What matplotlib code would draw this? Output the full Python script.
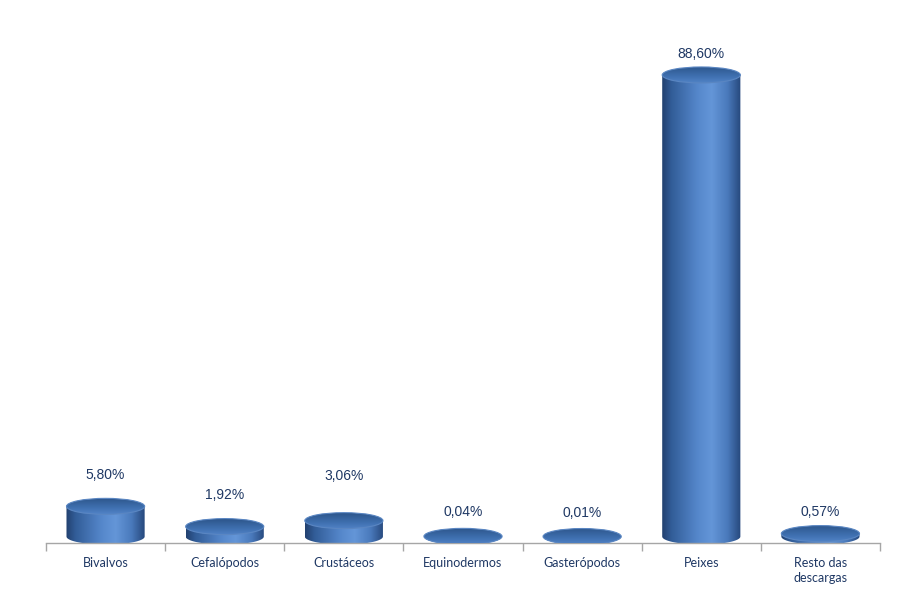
import numpy as np
import matplotlib
matplotlib.use("Agg")
import matplotlib.pyplot as plt
from matplotlib.patches import Ellipse, PathPatch
from matplotlib.path import Path
from matplotlib.colors import LinearSegmentedColormap

categories = ["Bivalvos", "Cefalópodos", "Crustáceos", "Equinodermos",
              "Gasterópodos", "Peixes", "Resto das\ndescargas"]
values = [5.80, 1.92, 3.06, 0.04, 0.01, 88.60, 0.57]
labels = ["5,80%", "1,92%", "3,06%", "0,04%", "0,01%", "88,60%", "0,57%"]

# styling: label distance above the top of each cylinder (points)
label_gap_pt = [16.6, 17.3, 26.6, 11.5, 11.5, 9.4, 10.1]

W, H = 907, 603
fig = plt.figure(figsize=(W / 100, H / 100), dpi=100)
ax_left, ax_right = 46 / W, 880 / W
ax_bottom, ax_top = 1 - 543 / H, 1 - 25 / H
ax = fig.add_axes([ax_left, ax_bottom, ax_right - ax_left, ax_top - ax_bottom])

px_per_unit = 5.21
ymax = (543 - 25) / px_per_unit
ax.set_xlim(-0.5, 6.5)
ax.set_ylim(0, ymax)

hw = 0.328           # half width (category units)
hh = 8 / px_per_unit  # ellipse half height (data units)
base = hh - 0.3

body_cmap = LinearSegmentedColormap.from_list(
    "body", [(0.0, "#22416f"), (0.12, "#325d98"), (0.45, "#5587cb"),
             (0.63, "#6496d8"), (0.83, "#4a7abc"), (1.0, "#26487c")])
top_cmap = LinearSegmentedColormap.from_list(
    "top", [(0.0, "#2d568c"), (0.6, "#3f70b0"), (1.0, "#5183c6")])

grad = np.linspace(0, 1, 256).reshape(1, -1)
vgrad = np.linspace(0, 1, 64).reshape(-1, 1)

for i, v in enumerate(values):
    x0 = i
    ybot = base
    ytop = base + v
    t = np.linspace(np.pi, 2 * np.pi, 60)
    verts = [(x0 - hw, ytop)]
    verts += [(x0 + hw * np.cos(a), ybot + hh * np.sin(a)) for a in t]
    verts += [(x0 + hw, ytop), (x0 - hw, ytop)]
    codes = [Path.MOVETO] + [Path.LINETO] * (len(verts) - 2) + [Path.CLOSEPOLY]
    body = PathPatch(Path(verts, codes), facecolor="none", edgecolor="none")
    ax.add_patch(body)
    im = ax.imshow(grad, cmap=body_cmap, aspect="auto",
                   extent=(x0 - hw, x0 + hw, ybot - hh, ytop),
                   interpolation="bicubic", zorder=2)
    im.set_clip_path(body)
    top = Ellipse((x0, ytop), 2 * hw, 2 * hh, facecolor="none",
                  edgecolor="#5a86c2", lw=0.8, zorder=4)
    ax.add_patch(top)
    im2 = ax.imshow(vgrad, cmap=top_cmap, aspect="auto",
                    extent=(x0 - hw, x0 + hw, ytop - hh, ytop + hh),
                    origin="upper", interpolation="bicubic", zorder=3)
    im2.set_clip_path(top)
    ax.annotate(labels[i], (x0, ytop + hh), xytext=(0, label_gap_pt[i]),
                textcoords="offset points", ha="center", va="center",
                fontsize=10, color="#1f3864", family="Liberation Sans")

for s in ["left", "right", "top"]:
    ax.spines[s].set_visible(False)
ax.spines["bottom"].set_color("#a6a6a6")
ax.spines["bottom"].set_linewidth(1.0)
ax.set_yticks([])
ax.set_xticks(range(len(categories)))
ax.set_xticklabels(categories, fontsize=9, color="#1f3864", family="Lato",
                   linespacing=1.35)
ax.tick_params(axis="x", which="major", length=0, pad=10)
ax.set_xticks(np.arange(-0.5, 7, 1.0), minor=True)
ax.tick_params(axis="x", which="minor", length=6, color="#a6a6a6", width=1.0)

fig.savefig("out.png", dpi=100)
